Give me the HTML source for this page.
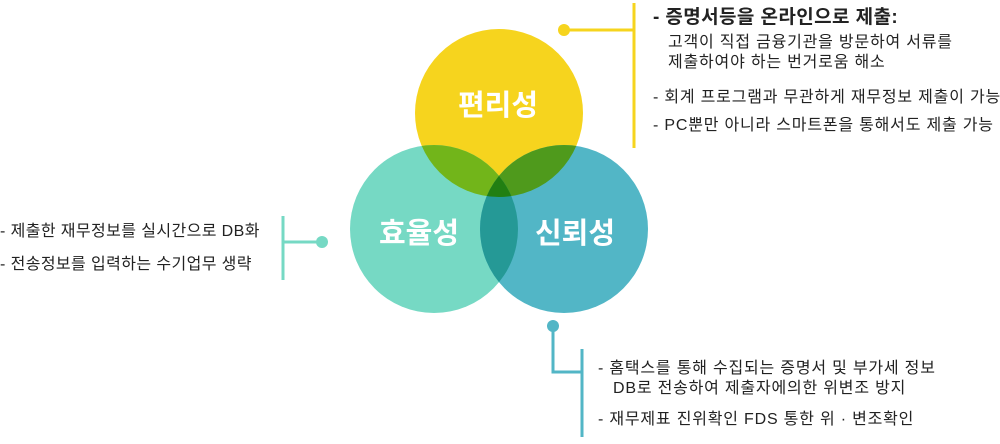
<!DOCTYPE html>
<html><head><meta charset="utf-8"><style>
body{margin:0;width:1000px;height:444px;background:#fff;overflow:hidden;position:relative;font-family:"Liberation Sans","Noto Sans CJK KR",sans-serif;color:#222}
.t{position:absolute;font-size:16px;white-space:nowrap;line-height:20px;letter-spacing:0.8px}
</style></head><body>
<svg width="1000" height="444" style="position:absolute;left:0;top:0">
<defs>
<clipPath id="cy"><circle cx="499" cy="113" r="84"/></clipPath>
<clipPath id="cg"><circle cx="434" cy="229" r="84"/></clipPath>
<clipPath id="cb"><circle cx="564" cy="229" r="84"/></clipPath>
</defs>
<circle cx="499" cy="113" r="84" fill="#f6d41e"/>
<circle cx="434" cy="229" r="84" fill="#76d9c4"/>
<circle cx="564" cy="229" r="84" fill="#52b6c6"/>
<circle cx="434" cy="229" r="84" fill="#72b51a" clip-path="url(#cy)"/>
<circle cx="564" cy="229" r="84" fill="#4f9a1c" clip-path="url(#cy)"/>
<circle cx="564" cy="229" r="84" fill="#259996" clip-path="url(#cg)"/>
<g clip-path="url(#cy)"><circle cx="564" cy="229" r="84" fill="#217f12" clip-path="url(#cg)"/></g>
<g font-family="Liberation Sans, Noto Sans CJK KR, sans-serif" font-weight="bold" font-size="29" fill="#fff" text-anchor="middle">
<text x="498" y="115">편리성</text>
<text x="419" y="243">효율성</text>
<text x="575" y="243">신뢰성</text>
</g>
<g fill="none" stroke-width="3">
<path d="M564 30H634M634 3V148" stroke="#f6d41e"/>
<path d="M322 242H283M283 216V280" stroke="#76d9c4"/>
<path d="M553 326V372H582M582 349V437" stroke="#52b6c6"/>
</g>
<circle cx="564" cy="30" r="6" fill="#f6d41e"/>
<circle cx="322" cy="242" r="6" fill="#76d9c4"/>
<circle cx="553" cy="326" r="6" fill="#52b6c6"/>
</svg>
<div class="t" style="left:653px;top:8px;font-size:19px;font-weight:bold;letter-spacing:0.4px">- 증명서등을 온라인으로 제출:</div>
<div class="t" style="left:668px;top:33px">고객이 직접 금융기관을 방문하여 서류를</div>
<div class="t" style="left:668px;top:53px">제출하여야 하는 번거로움 해소</div>
<div class="t" style="left:653px;top:88px">- 회계 프로그램과 무관하게 재무정보 제출이 가능</div>
<div class="t" style="left:653px;top:116px">- PC뿐만 아니라 스마트폰을 통해서도 제출 가능</div>
<div class="t" style="left:0px;top:222px;letter-spacing:0.4px">- 제출한 재무정보를 실시간으로 DB화</div>
<div class="t" style="left:0px;top:255px;letter-spacing:0.4px">- 전송정보를 입력하는 수기업무 생략</div>
<div class="t" style="left:598px;top:359px">- 홈택스를 통해 수집되는 증명서 및 부가세 정보</div>
<div class="t" style="left:613px;top:379px">DB로 전송하여 제출자에의한 위변조 방지</div>
<div class="t" style="left:598px;top:410px">- 재무제표 진위확인 FDS 통한 위 · 변조확인</div>
</body></html>
